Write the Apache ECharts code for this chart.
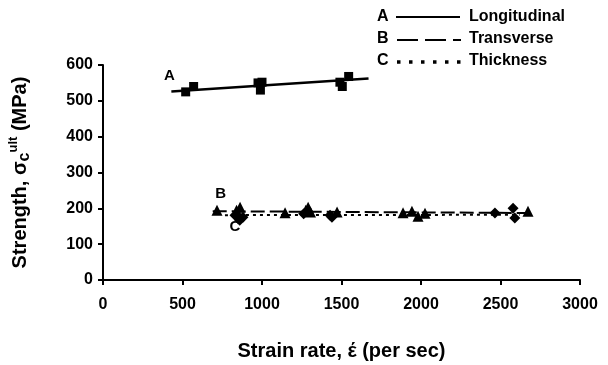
<!DOCTYPE html>
<html>
<head>
<meta charset="utf-8">
<script src="https://cdn.jsdelivr.net/npm/echarts@6/dist/echarts.min.js"></script>
<style>
  html, body { margin: 0; padding: 0; background: #fff; }
  #chart { width: 608px; height: 365px; }
</style>
</head>
<body>
<div id="chart"></div>
<script>
// Ultimate compressive strength vs. strain rate, three loading directions
const xTicks = [0, 500, 1000, 1500, 2000, 2500, 3000];
const yTicks = [0, 100, 200, 300, 400, 500, 600];

// Measured points [strain rate, strength]
const longitudinalPts = [[520, 525], [570, 540], [975, 550], [990, 530], [1000, 552], [1490, 552], [1505, 540], [1545, 568]];
const transversePts = [[717, 195], [840, 195], [862, 203], [1145, 188], [1275, 195], [1290, 203], [1305, 190], [1472, 190],
                       [1887, 188], [1943, 192], [1981, 178], [2025, 186], [2673, 192]];
const thicknessPts = [[830, 181], [860, 167], [880, 175], [1262, 185], [1428, 181], [1440, 175], [2465, 187], [2579, 200], [2590, 173]];

// Fitted trend lines (end points)
const longitudinalFit = [[430, 526], [1670, 562]];
const transverseFit = [[690, 192], [2680, 187]];
const thicknessFit = [[767, 181], [2620, 182]];

// Curve tags placed at the start of each fitted line
const curveTags = ['A', 'B', 'C'];

const font = 'Liberation Sans, Arial, sans-serif';
const chart = echarts.init(document.getElementById('chart'));

function fitSeries(pts, type, width) {
  return {
    type: 'line', data: pts, symbol: 'none', silent: true, z: 1,
    lineStyle: { color: '#000', width: width, type: type }
  };
}

function pointSeries(pts, symbol, size) {
  return { type: 'scatter', data: pts, symbol: symbol, symbolSize: size,
           itemStyle: { color: '#000', opacity: 1 }, z: 2 };
}

const tagStyle = { fontFamily: font, fontWeight: 'bold', fontSize: 15, color: '#000' };

chart.setOption({
  animation: false,
  grid: { left: 103, right: 28, top: 65, bottom: 85, outerBoundsMode: 'none', containLabel: false },
  xAxis: {
    type: 'value', min: 0, max: 3000, interval: 500,
    name: 'Strain rate, έ (per sec)', nameLocation: 'middle', nameGap: 61,
    nameTextStyle: { fontFamily: font, fontWeight: 'bold', fontSize: 20, color: '#000' },
    axisLine: { lineStyle: { color: '#000', width: 2 } },
    axisTick: { show: true, length: 5, lineStyle: { color: '#000', width: 2 } },
    axisLabel: { margin: 17, fontFamily: font, fontWeight: 'bold', fontSize: 16, color: '#000',
                 formatter: v => xTicks.includes(v) ? String(v) : '' },
    splitLine: { show: false }
  },
  yAxis: {
    type: 'value', min: 0, max: 600, interval: 100,
    name: '{t|Strength, σ}{sub|c}{sup|ult}{t| (MPa)}', nameLocation: 'middle', nameGap: 70, nameRotate: 90,
    nameTextStyle: {
      rich: {
        t: { fontFamily: font, fontWeight: 'bold', fontSize: 20, color: '#000' },
        sub: { fontFamily: font, fontWeight: 'bold', fontSize: 16, color: '#000', verticalAlign: 'bottom', padding: [6, 0, 0, 0] },
        sup: { fontFamily: font, fontWeight: 'bold', fontSize: 13, color: '#000', verticalAlign: 'top', padding: [0, 0, 13, 0] }
      }
    },
    axisLine: { show: true, lineStyle: { color: '#000', width: 2 } },
    axisTick: { show: true, length: 5, lineStyle: { color: '#000', width: 2 } },
    axisLabel: { margin: 10, fontFamily: font, fontWeight: 'bold', fontSize: 16, color: '#000',
                 formatter: v => yTicks.includes(v) ? String(v) : '' },
    splitLine: { show: false }
  },
  series: [
    fitSeries(longitudinalFit, 'solid', 2.5),
    fitSeries(transverseFit, [14, 5], 2),
    fitSeries(thicknessFit, [3, 4], 2),
    pointSeries(longitudinalPts, 'rect', 9),
    pointSeries(transversePts, 'triangle', 11),
    pointSeries(thicknessPts, 'diamond', 11),
    {
      type: 'scatter', symbolSize: 0, silent: true, z: 3,
      itemStyle: { opacity: 1 },
      data: [
        { value: longitudinalFit[0], label: { show: true, formatter: curveTags[0], position: 'top', offset: [-2, -3], ...tagStyle } },
        { value: transverseFit[0], label: { show: true, formatter: curveTags[1], position: 'top', offset: [8, -5], ...tagStyle } },
        { value: thicknessFit[0], label: { show: true, formatter: curveTags[2], position: 'bottom', offset: [10, -1], ...tagStyle } }
      ]
    }
  ],
  graphic: [
    // key
    { type: 'text', left: 377, top: 9, style: { text: 'A', font: 'bold 16px ' + font, fill: '#000' } },
    { type: 'text', left: 377, top: 31, style: { text: 'B', font: 'bold 16px ' + font, fill: '#000' } },
    { type: 'text', left: 377, top: 53, style: { text: 'C', font: 'bold 16px ' + font, fill: '#000' } },
    { type: 'line', shape: { x1: 396, y1: 17, x2: 460, y2: 17 }, style: { stroke: '#000', lineWidth: 2 } },
    { type: 'line', shape: { x1: 397, y1: 40, x2: 461, y2: 40 }, style: { stroke: '#000', lineWidth: 2, lineDash: [21, 7] } },
    { type: 'line', shape: { x1: 397, y1: 62, x2: 461, y2: 62 }, style: { stroke: '#000', lineWidth: 3.5, lineDash: [3.5, 8.5] } },
    { type: 'text', left: 469, top: 9, style: { text: 'Longitudinal', font: 'bold 16px ' + font, fill: '#000' } },
    { type: 'text', left: 469, top: 31, style: { text: 'Transverse', font: 'bold 16px ' + font, fill: '#000' } },
    { type: 'text', left: 469, top: 53, style: { text: 'Thickness', font: 'bold 16px ' + font, fill: '#000' } }
  ]
});
</script>
</body>
</html>
